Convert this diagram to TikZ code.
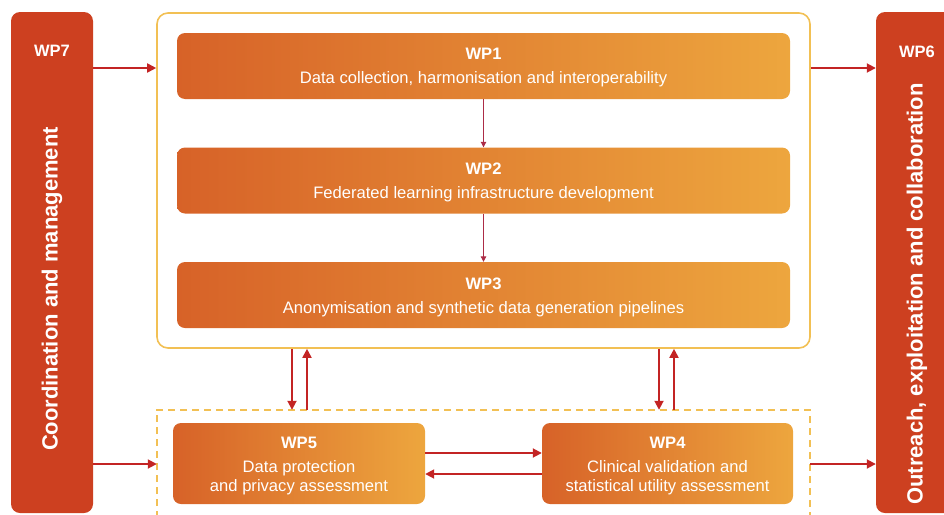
\documentclass[tikz,border=0pt]{standalone}
\usepackage{fontspec}
\setmainfont{Liberation Sans}
\usetikzlibrary{arrows.meta}
\definecolor{barred}{RGB}{205,64,32}
\definecolor{gradL}{RGB}{215,98,40}
\definecolor{gradR}{RGB}{237,166,62}
\definecolor{frameY}{RGB}{242,192,84}
\definecolor{arrred}{RGB}{195,36,36}
\definecolor{thinred}{RGB}{172,44,70}
\tikzset{
  barbox/.style={fill=barred, rounded corners=9pt, minimum width=82pt, minimum height=501pt, inner sep=0pt},
  bartitle/.style={text=white, font=\fontsize{16.5}{19}\selectfont\bfseries},
  barvert/.style={text=white, rotate=90, font=\fontsize{22}{24}\selectfont\bfseries},
  wpbox/.style={left color=gradL, right color=gradR, rounded corners=8pt, inner sep=0pt},
  wptext/.style={text=white, align=center, font=\fontsize{16.6}{19}\selectfont},
  bigarr/.style={draw=arrred, line width=1.8pt, -{Triangle[length=9pt,width=9pt]}},
  thinarr/.style={draw=thinred, line width=1pt, -{Triangle[length=5.5pt,width=5.5pt]}},
  frame/.style={draw=frameY, line width=1.6pt, rounded corners=11pt},
  dashframe/.style={draw=frameY, line width=1.6pt, dash pattern=on 7pt off 5pt},
}
\begin{document}
\begin{tikzpicture}[x=1pt,y=-1pt]
\useasboundingbox (0,0) rectangle (944,514);
\clip (0,0) rectangle (944,514);
% side bars
\node[barbox] (wp7) at (52,262.5) {};
\node[bartitle] (wp7t) at (52,51) {WP7};
\node[barvert] (wp7d) at (52,289) {Coordination and management};
\node[barbox] (wp6) at (917,262.5) {};
\node[bartitle] (wp6t) at (917,52) {WP6};
\node[barvert] (wp6d) at (917,294) {Outreach, exploitation and collaboration};
% top frame
\node[frame, minimum width=653pt, minimum height=335pt] (top) at (483.5,180.5) {};
\node[wpbox, minimum width=613pt, minimum height=66pt] (wp1) at (483.5,66) {};
\node[wptext] (wp1t) at ([yshift=-2pt]wp1.center)
  {{\bfseries WP1}\\[5pt]Data collection, harmonisation and interoperability};
\node[wpbox, minimum width=613pt, minimum height=66pt] (wp2) at (483.5,180.5) {};
\node[wptext] (wp2t) at ([yshift=-2pt]wp2.center)
  {{\bfseries WP2}\\[5pt]Federated learning infrastructure development};
\node[wpbox, minimum width=613pt, minimum height=66pt] (wp3) at (483.5,295) {};
\node[wptext] (wp3t) at ([yshift=-2pt]wp3.center)
  {{\bfseries WP3}\\[5pt]Anonymisation and synthetic data generation pipelines};
% dashed frame
\node[minimum width=653pt, minimum height=120pt, inner sep=0pt] (dash) at (483.5,470) {};
\draw[dashframe] (dash.south west) -- (dash.north west) -- (dash.north east) -- (dash.south east);
\node[wpbox, minimum width=252pt, minimum height=81pt] (wp5) at (299,463.5) {};
\node[wptext] (wp5t) at ([yshift=-3pt]wp5.center)
  {{\bfseries WP5}\\[5pt]Data protection\\and privacy assessment};
\node[wpbox, minimum width=251pt, minimum height=81pt] (wp4) at (667.5,463.5) {};
\node[wptext] (wp4t) at ([yshift=-3pt]wp4.center)
  {{\bfseries WP4}\\[5pt]Clinical validation and\\statistical utility assessment};
% arrows
\coordinate (ytop) at (0,68);
\coordinate (ybot) at (0,464);
\draw[thinarr] (wp1.south) -- (wp2.north);
\draw[thinarr] (wp2.south) -- (wp3.north);
\draw[bigarr] (wp7.east |- ytop) -- (top.west |- ytop);
\draw[bigarr] (top.east |- ytop) -- (wp6.west |- ytop);
\draw[bigarr] (wp7.east |- ybot) -- (dash.west |- ybot);
\draw[bigarr] (dash.east |- ybot) -- (wp6.west |- ybot);
\draw[bigarr] (top.south -| 292,0) -- (dash.north -| 292,0);
\draw[bigarr] (dash.north -| 307,0) -- (top.south -| 307,0);
\draw[bigarr] (top.south -| 659,0) -- (dash.north -| 659,0);
\draw[bigarr] (dash.north -| 674,0) -- (top.south -| 674,0);
\draw[bigarr] ([yshift=10.5pt]wp5.east) -- ([yshift=10.5pt]wp4.west);
\draw[bigarr] ([yshift=-10.5pt]wp4.west) -- ([yshift=-10.5pt]wp5.east);
\end{tikzpicture}
\end{document}
